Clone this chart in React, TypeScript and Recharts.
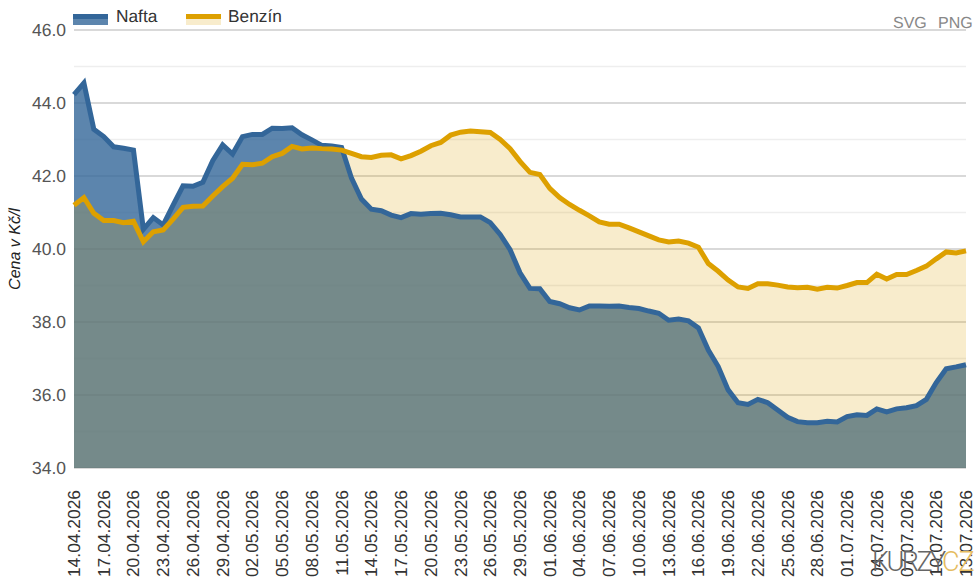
import { AreaChart, Area, XAxis, YAxis, CartesianGrid, Legend } from 'recharts'

const dates = [
  '14.04.2026', '15.04.2026', '16.04.2026', '17.04.2026', '18.04.2026', '19.04.2026', '20.04.2026', '21.04.2026', '22.04.2026', '23.04.2026',
  '24.04.2026', '25.04.2026', '26.04.2026', '27.04.2026', '28.04.2026', '29.04.2026', '30.04.2026', '01.05.2026', '02.05.2026', '03.05.2026',
  '04.05.2026', '05.05.2026', '06.05.2026', '07.05.2026', '08.05.2026', '09.05.2026', '10.05.2026', '11.05.2026', '12.05.2026', '13.05.2026',
  '14.05.2026', '15.05.2026', '16.05.2026', '17.05.2026', '18.05.2026', '19.05.2026', '20.05.2026', '21.05.2026', '22.05.2026', '23.05.2026',
  '24.05.2026', '25.05.2026', '26.05.2026', '27.05.2026', '28.05.2026', '29.05.2026', '30.05.2026', '31.05.2026', '01.06.2026', '02.06.2026',
  '03.06.2026', '04.06.2026', '05.06.2026', '06.06.2026', '07.06.2026', '08.06.2026', '09.06.2026', '10.06.2026', '11.06.2026', '12.06.2026',
  '13.06.2026', '14.06.2026', '15.06.2026', '16.06.2026', '17.06.2026', '18.06.2026', '19.06.2026', '20.06.2026', '21.06.2026', '22.06.2026',
  '23.06.2026', '24.06.2026', '25.06.2026', '26.06.2026', '27.06.2026', '28.06.2026', '29.06.2026', '30.06.2026', '01.07.2026', '02.07.2026',
  '03.07.2026', '04.07.2026', '05.07.2026', '06.07.2026', '07.07.2026', '08.07.2026', '09.07.2026', '10.07.2026', '11.07.2026', '12.07.2026',
  '13.07.2026',
]

const nafta = [
  44.23, 44.55, 43.28, 43.08, 42.8, 42.76, 42.71, 40.54, 40.86, 40.66,
  41.2, 41.73, 41.72, 41.83, 42.42, 42.85, 42.6, 43.08, 43.14, 43.14,
  43.31, 43.3, 43.32, 43.13, 42.99, 42.84, 42.82, 42.78, 41.94, 41.37,
  41.09, 41.05, 40.93, 40.86, 40.97, 40.95, 40.97, 40.98, 40.94, 40.88,
  40.88, 40.88, 40.72, 40.4, 39.98, 39.35, 38.92, 38.91, 38.56, 38.5,
  38.39, 38.33, 38.44, 38.44, 38.43, 38.44, 38.4, 38.37, 38.3, 38.24,
  38.05, 38.08, 38.03, 37.84, 37.23, 36.78, 36.14, 35.79, 35.74, 35.88,
  35.79, 35.59, 35.39, 35.27, 35.24, 35.24, 35.28, 35.26, 35.41, 35.46,
  35.44, 35.62, 35.54, 35.62, 35.65, 35.71, 35.88, 36.34, 36.72, 36.77,
  36.83,
]

const benzin = [
  41.2, 41.41, 40.98, 40.78, 40.78, 40.72, 40.76, 40.2, 40.47, 40.52,
  40.82, 41.14, 41.17, 41.18, 41.45, 41.71, 41.94, 42.32, 42.31, 42.35,
  42.53, 42.62, 42.81, 42.74, 42.77, 42.75, 42.74, 42.71, 42.62, 42.53,
  42.51, 42.57, 42.58, 42.47, 42.56, 42.68, 42.83, 42.92, 43.12, 43.2,
  43.23, 43.21, 43.19, 43.0, 42.75, 42.4, 42.1, 42.04, 41.66, 41.41,
  41.22, 41.06, 40.91, 40.74, 40.68, 40.68, 40.58, 40.47, 40.36, 40.25,
  40.19, 40.22, 40.16, 40.05, 39.6, 39.39, 39.15, 38.96, 38.92, 39.05,
  39.05, 39.01, 38.96, 38.94, 38.95, 38.9, 38.95, 38.93, 39.0, 39.08,
  39.08, 39.31, 39.18, 39.3, 39.3, 39.41, 39.53, 39.73, 39.92, 39.89,
  39.95,
]

const majorTicks = [34, 36, 38, 40, 42, 44, 46]
const minorTicks = [35, 37, 39, 41, 43, 45]

const data = dates.map((d, i) => ({ date: d, nafta: nafta[i], benzin: benzin[i] }))

const BLUE = '#336699'
const GOLD = '#DDA000'

function DateTick({ x, y, payload }: any) {
  return (
    <text
      transform={`translate(${x + 6},${y + 14}) rotate(-90)`}
      textAnchor="end"
      fontSize={17.4}
      fontFamily="Liberation Sans, Arial, sans-serif"
      fill="#333"
      textRendering="geometricPrecision"
    >
      {payload.value}
    </text>
  )
}

function LegendBox() {
  const swatch = (left: number, color: string, opacity: number) => (
    <div style={{ position: 'absolute', left, top: 14, width: 35, height: 11, background: color, opacity }} />
  )
  const line = (left: number, color: string) => (
    <div style={{ position: 'absolute', left, top: 14, width: 35, height: 5, background: color }} />
  )
  const label = (left: number, text: string) => (
    <span style={{ position: 'absolute', left, top: 6, fontSize: 17.3, color: '#333', textRendering: 'geometricPrecision', fontFamily: 'Liberation Sans, Arial, sans-serif' }}>{text}</span>
  )
  return (
    <div style={{ position: 'relative', width: 980, height: 30 }}>
      {swatch(73, BLUE, 0.8)}
      {line(73, BLUE)}
      {label(116, 'Nafta')}
      {swatch(186, GOLD, 0.2)}
      {line(186, GOLD)}
      {label(228, 'Benzín')}
    </div>
  )
}

export default function App() {
  return (
    <div style={{ position: 'absolute', left: 0, top: 0, width: 980, height: 585, overflow: 'hidden', fontFamily: 'Liberation Sans, Arial, sans-serif' }}>
      <AreaChart width={980} height={585} data={data} margin={{ top: 0, right: 14, left: 0, bottom: 0 }}>
        <CartesianGrid vertical={false} horizontalValues={minorTicks} stroke="#eeeeee" strokeWidth={1.5} />
        <CartesianGrid vertical={false} horizontalValues={majorTicks} stroke="#cccccc" strokeWidth={1.5} />
        <XAxis
          dataKey="date"
          interval={2}
          height={117}
          axisLine={false}
          tickLine={false}
          tick={<DateTick />}
        />
        <YAxis
          width={74}
          domain={[34, 46]}
          ticks={majorTicks}
          allowDataOverflow
          axisLine={false}
          tickLine={false}
          tickFormatter={(v: number) => v.toFixed(1)}
          tick={{ fontSize: 17.5, fill: '#555', fontFamily: 'Liberation Sans, Arial, sans-serif', textRendering: 'geometricPrecision' }}
          label={{
            value: 'Cena v Kč/l',
            angle: -90,
            position: 'insideLeft',
            offset: 14,
            style: { fontSize: 16, fontStyle: 'italic', fill: '#222', textAnchor: 'middle', textRendering: 'geometricPrecision' },
          }}
        />
        <Legend
          verticalAlign="top"
          content={<LegendBox />}
          wrapperStyle={{ left: 0, top: 0, width: 980 }}
        />
        {/* fills first, so both lines stay crisp on top of the gold fill */}
        <Area type="linear" dataKey="nafta" name="Nafta" stroke="none" fill={BLUE} fillOpacity={0.8} dot={false} activeDot={false} isAnimationActive={false} />
        <Area type="linear" dataKey="benzin" name="Benzín" stroke="none" fill={GOLD} fillOpacity={0.2} dot={false} activeDot={false} isAnimationActive={false} />
        <Area type="linear" dataKey="nafta" name="Nafta" stroke={BLUE} strokeWidth={5} fill="none" dot={false} activeDot={false} isAnimationActive={false} />
        <Area type="linear" dataKey="benzin" name="Benzín" stroke={GOLD} strokeWidth={5} fill="none" dot={false} activeDot={false} isAnimationActive={false} />
      </AreaChart>
      <span style={{ position: 'absolute', left: 893, top: 15, fontSize: 16, color: '#888', textRendering: 'geometricPrecision' }}>SVG</span>
      <span style={{ position: 'absolute', left: 938, top: 15, fontSize: 16, color: '#888', textRendering: 'geometricPrecision' }}>PNG</span>
      <span style={{ position: 'absolute', left: 872, top: 546, fontSize: 27, fontWeight: 300, fontFamily: 'Roboto, sans-serif', color: '#666', letterSpacing: -2.5 }}>KURZY</span>
      <span style={{ position: 'absolute', left: 942, top: 546, fontSize: 27, fontWeight: 300, fontFamily: 'Roboto, sans-serif', color: '#E5BC60', letterSpacing: -1 }}>CZ</span>
    </div>
  )
}
